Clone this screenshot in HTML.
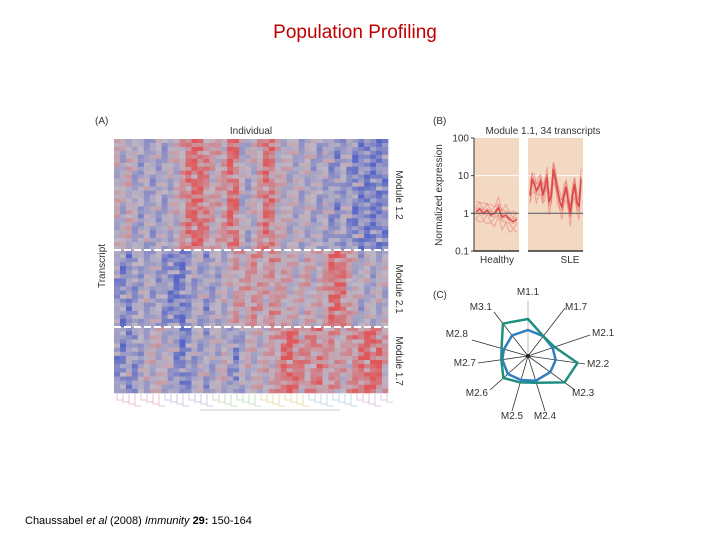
<!DOCTYPE html>
<html><head><meta charset="utf-8"><style>
html,body{margin:0;padding:0;background:#fff;width:720px;height:540px;overflow:hidden}
svg{display:block;font-family:"Liberation Sans",sans-serif}
</style></head><body>
<svg id="s" width="720" height="540" viewBox="0 0 720 540">
<text x="355" y="38" text-anchor="middle" font-size="19" fill="#c00000">Population Profiling</text>
<text x="25" y="524" font-size="11" fill="#000">Chaussabel <tspan font-style="italic">et al</tspan> (2008) <tspan font-style="italic">Immunity</tspan> <tspan font-weight="bold">29:</tspan> 150-164</text>

<g>
<text x="95" y="124" font-size="10" fill="#333">(A)</text>
<text x="251" y="134" font-size="10" text-anchor="middle" fill="#333">Individual</text>
<text transform="translate(105,266) rotate(-90)" font-size="10" text-anchor="middle" fill="#333">Transcript</text>
<g id="heat"></g>
<g id="dendro"></g>
<text transform="translate(396,195) rotate(90)" font-size="10" text-anchor="middle" fill="#333">Module 1.2</text>
<text transform="translate(396,289) rotate(90)" font-size="10" text-anchor="middle" fill="#333">Module 2.1</text>
<text transform="translate(396,361) rotate(90)" font-size="10" text-anchor="middle" fill="#333">Module 1.7</text>
</g>

<g>
<text x="433" y="124" font-size="10" fill="#333">(B)</text>
<text x="543" y="134" font-size="10" text-anchor="middle" fill="#333">Module 1.1, 34 transcripts</text>
<text transform="translate(442,195) rotate(-90)" font-size="10" text-anchor="middle" fill="#333">Normalized expression</text>
<g id="lineB"></g>
<text x="497" y="263" font-size="10" text-anchor="middle" fill="#333">Healthy</text>
<text x="570" y="263" font-size="10" text-anchor="middle" fill="#333">SLE</text>
</g>

<g>
<text x="433" y="298" font-size="10" fill="#333">(C)</text>
<g id="radar"></g>
</g>
</svg>
<script>
// ---- Heatmap data ----
const moduleNames = ["Module 1.2","Module 2.1","Module 1.7"];
const colsM12 = [0,-0.1,0.1,-0.2,-0.3,-0.2,-0.3,-0.2,-0.3,-0.1,0,0.3,0.7,0.9,0.8,0.5,0.2,0.2,0.3,0.9,0.7,-0.1,-0.2,0,0.3,0.8,0.6,0.1,0,-0.1,-0.1,-0.2,-0.1,-0.2,-0.3,-0.2,-0.4,-0.5,-0.3,-0.4,-0.7,-0.6,-0.7,-0.8,-0.7,-0.6];
const colsM21 = [-0.4,-0.6,-0.5,-0.4,-0.3,-0.2,-0.3,-0.3,-0.5,-0.6,-0.8,-0.8,-0.4,-0.3,-0.2,-0.4,-0.3,-0.2,-0.1,0,0.3,0.2,0.3,0.4,0.3,0.2,0.4,0.3,0.2,0.1,0,0.1,0.2,0,0.1,0.3,0.8,0.9,0.7,0.2,0,-0.2,-0.1,-0.2,-0.1,-0.1];
const colsM17 = [-0.5,-0.6,-0.4,-0.5,-0.3,-0.1,0,0,-0.1,-0.2,-0.5,-0.8,-0.5,-0.3,-0.2,-0.3,-0.2,-0.1,0,-0.3,-0.6,-0.2,0,0,0,0.1,0.2,0.3,0.8,0.9,0.7,0.5,0.4,0.5,0.6,0.3,0.4,0.3,0.2,0.3,0.5,0.7,0.8,0.9,0.8,0.2];
const rowWeights = [1,0.5,1.2,0.8,0.3,1.1,0.6,1.3,0.9,0.4,1.0,1.2,0.7];
const cellNoise = [0.25,-0.3,0.1,-0.15,0.35,-0.05,-0.35,0.2,0,-0.25,0.3,-0.1,0.15];
const moduleRows = [28,19,16];

// ---- Line chart data ----
const healthyMean = [1.1,1.3,1.0,1.2,0.9,1.0,1.4,0.8,0.9,0.7,0.6,0.7];
const sleMean = [3,8,6,4,5,7,3,5,9,2,3,15,8,4,2,1.5,3,5,2,1,3,6,2,1.5,8];
const spreadFactors = [0.45,0.65,0.85,1.2,1.5,1.9];
const yTicks = [100,10,1,0.1];

// ---- Radar data ----
const radarAxes = ["M1.1","M1.7","M2.1","M2.2","M2.3","M2.4","M2.5","M2.6","M2.7","M2.8","M3.1"];
const radarOuter = [0.74,0.5,0.56,1.0,0.9,0.56,0.55,0.66,0.54,0.55,0.82];
const radarInner = [0.52,0.5,0.52,0.56,0.55,0.52,0.5,0.54,0.52,0.5,0.52];

const NS="http://www.w3.org/2000/svg";
function mk(tag,attrs,parent){const e=document.createElementNS(NS,tag);for(const k in attrs)e.setAttribute(k,attrs[k]);parent.appendChild(e);return e;}

// Heatmap
(function(){
  const g=document.getElementById('heat');
  const x0=114,x1=388,yStarts=[139,250,327],yEnds=[250,327,393];
  const profiles=[colsM12,colsM21,colsM17];
  function color(v){v=Math.max(-1,Math.min(1,v))*0.8;const b=[190,182,196];
    const t=v>=0?[232,62,62]:[62,82,200];const a=Math.abs(v);
    return `rgb(${Math.round(b[0]+(t[0]-b[0])*a)},${Math.round(b[1]+(t[1]-b[1])*a)},${Math.round(b[2]+(t[2]-b[2])*a)})`;}
  profiles.forEach((prof,m)=>{
    const n=prof.length,cw=(x1-x0)/n,rows=moduleRows[m],rh=(yEnds[m]-yStarts[m])/rows;
    for(let r=0;r<rows;r++)for(let c=0;c<n;c++){
      const w=rowWeights[(r+c*3)%rowWeights.length];
      const nz=cellNoise[(r*5+c*7)%cellNoise.length];
      const rect=mk('rect',{x:(x0+c*cw).toFixed(2),y:(yStarts[m]+r*rh).toFixed(2),width:(cw+0.3).toFixed(2),height:(rh+0.3).toFixed(2),fill:color(prof[c]*w+nz)},g);
      
      
    }
  });
  [250,327].forEach(y=>{const l=mk('line',{x1:x0,x2:x1,y1:y,y2:y,stroke:'#fff','stroke-width':2,'stroke-dasharray':'7,3'},g);
    
    });
  const d=document.getElementById('dendro');
  const pal=['#e8c0d0','#d0c8e8','#c8e0c8','#e8e0b0','#c0dce8','#e0c8e8'];
  for(let i=0;i<46;i++){const x=x0+i*6+3;
    const l=mk('path',{d:`M${x} 394 V${400+(i%4)*2} H${x+6}`,stroke:pal[Math.floor(i/8)%6],fill:'none','stroke-width':1},d);
    
    }
  mk('line',{x1:200,x2:340,y1:410,y2:410,stroke:'#ccc','stroke-width':1},d);
})();

// Line chart
(function(){
  const g=document.getElementById('lineB');
  const yTop=138,yBot=251;
  const ys=v=>yBot-(Math.log10(v)+1)/3*(yBot-yTop);
  const panels=[{x0:474,x1:519,data:healthyMean,name:'healthy-panel'},{x0:528,x1:583,data:sleMean,name:'sle-panel'}];
  panels.forEach(p=>{
    const bg=mk('rect',{x:p.x0,y:yTop,width:p.x1-p.x0,height:yBot-yTop,fill:'#f3d8c2'},g);
    
    
    mk('line',{x1:p.x0,x2:p.x1,y1:ys(10),y2:ys(10),stroke:'#fff','stroke-width':1},g);
    const xs=i=>p.x0+2+i*(p.x1-p.x0-4)/(p.data.length-1);
    spreadFactors.forEach((f,k)=>{
      const pts=p.data.map((v,i)=>`${xs(i).toFixed(1)},${ys(v*Math.pow(f,(i+k)%2?1:0.6)).toFixed(1)}`).join(' ');
      const pl=mk('polyline',{points:pts,fill:'none',stroke:'rgba(225,80,80,0.4)','stroke-width':1},g);
      
      
    });
    const pm=mk('polyline',{points:p.data.map((v,i)=>`${xs(i).toFixed(1)},${ys(v).toFixed(1)}`).join(' '),fill:'none',stroke:'#dc4a4a','stroke-width':1.6},g);
    
    
    mk('line',{x1:p.x0,x2:p.x1,y1:ys(1),y2:ys(1),stroke:'#666','stroke-width':1.2},g);
    mk('line',{x1:p.x0,x2:p.x1,y1:yBot,y2:yBot,stroke:'#333','stroke-width':1.5},g);
  });
  mk('line',{x1:474,x2:474,y1:yTop,y2:yBot,stroke:'#333','stroke-width':1},g);
  yTicks.forEach(t=>{
    mk('line',{x1:471,x2:474,y1:ys(t),y2:ys(t),stroke:'#333'},g);
    const tx=mk('text',{x:469,y:ys(t)+3.5,'font-size':10,'text-anchor':'end',fill:'#333'},g);
    tx.textContent=t;
    
    
  });
})();

// Radar
(function(){
  const g=document.getElementById('radar');
  const cx=528,cy=356,R=50;
  const labelPos=[[528,295],[577,310],[604,336],[599,367],[584,396],[545,419],[512,419],[480,396],[468,366],[460,337],[484,310]];
  const spokeEnd=[[528,295],[565,308],[590,335],[585,364],[575,390],[545,411],[512,411],[490,390],[478,363],[472,340],[494,312]];
  radarAxes.forEach((a,i)=>{
    const e=spokeEnd[i];
    const l=mk('line',{x1:cx,y1:cy,x2:e[0],y2:e[1]+(i===0?6:0),stroke:i===0?'#aaa':'#333','stroke-width':0.8},g);
    
    
    const t=mk('text',{x:labelPos[i][0],y:labelPos[i][1],'font-size':10,'text-anchor':i===0?'middle':(i<=4?'start':'end'),fill:'#333'},g);
    if(i>=1&&i<=4)t.setAttribute('x',labelPos[i][0]-12);
    if(i===5||i===6)t.setAttribute('text-anchor','middle');
    if(i>=7)t.setAttribute('x',labelPos[i][0]+8);
    t.textContent=a;
    
    
  });
  const dirs=spokeEnd.map(e=>{const dx=e[0]-cx,dy=e[1]-cy,L=Math.hypot(dx,dy);return [dx/L,dy/L];});
  function poly(vals,stroke,name){
    const pts=vals.map((v,i)=>`${(cx+dirs[i][0]*v*R).toFixed(1)},${(cy+dirs[i][1]*v*R).toFixed(1)}`).join(' ');
    const p=mk('polygon',{points:pts,fill:'none',stroke:stroke,'stroke-width':2.5,'stroke-linejoin':'round'},g);
    
    
  }
  poly(radarInner,'#2f7fc0','radar-healthy-series');
  poly(radarOuter,'#1f8f80','radar-sle-series');
  mk('circle',{cx:cx,cy:cy,r:2,fill:'#222'},g);
})();
</script>
</body></html>
